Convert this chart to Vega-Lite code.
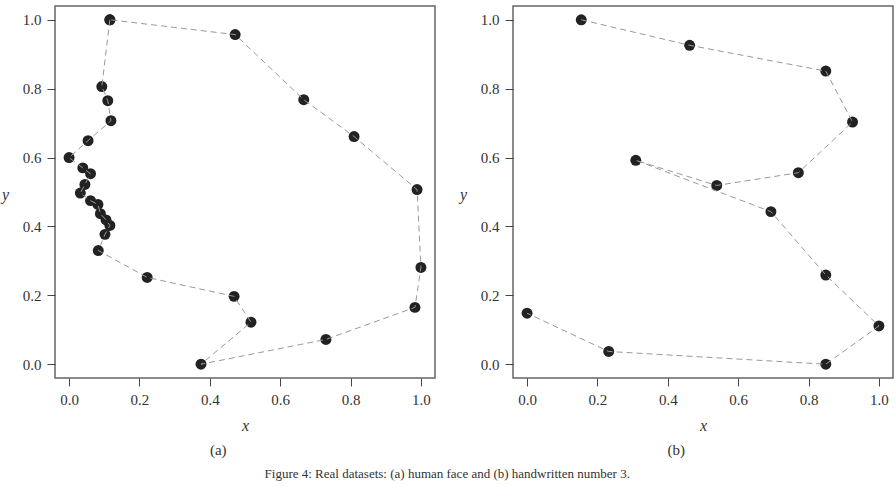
{
  "$schema": "https://vega.github.io/schema/vega-lite/v6.json",
  "padding": {"left": 0, "top": 5, "right": 0, "bottom": 0},
  "background": "white",
  "datasets": {
    "face": [
      {"i": 1, "x": 0.116, "y": 1.000},
      {"i": 2, "x": 0.093, "y": 0.806},
      {"i": 3, "x": 0.110, "y": 0.765},
      {"i": 4, "x": 0.119, "y": 0.707},
      {"i": 5, "x": 0.054, "y": 0.649},
      {"i": 6, "x": 0.000, "y": 0.600},
      {"i": 7, "x": 0.039, "y": 0.570},
      {"i": 8, "x": 0.061, "y": 0.553},
      {"i": 9, "x": 0.045, "y": 0.522},
      {"i": 10, "x": 0.032, "y": 0.497},
      {"i": 11, "x": 0.061, "y": 0.475},
      {"i": 12, "x": 0.082, "y": 0.464},
      {"i": 13, "x": 0.089, "y": 0.437},
      {"i": 14, "x": 0.105, "y": 0.419},
      {"i": 15, "x": 0.116, "y": 0.403},
      {"i": 16, "x": 0.102, "y": 0.377},
      {"i": 17, "x": 0.083, "y": 0.330},
      {"i": 18, "x": 0.222, "y": 0.252},
      {"i": 19, "x": 0.469, "y": 0.197},
      {"i": 20, "x": 0.517, "y": 0.122},
      {"i": 21, "x": 0.375, "y": 0.000},
      {"i": 22, "x": 0.730, "y": 0.072},
      {"i": 23, "x": 0.983, "y": 0.165},
      {"i": 24, "x": 1.000, "y": 0.281},
      {"i": 25, "x": 0.989, "y": 0.507},
      {"i": 26, "x": 0.810, "y": 0.661},
      {"i": 27, "x": 0.667, "y": 0.768},
      {"i": 28, "x": 0.472, "y": 0.957},
      {"i": 29, "x": 0.116, "y": 1.000}
    ],
    "digit": [
      {"i": 1, "x": 0.154, "y": 1.000},
      {"i": 2, "x": 0.462, "y": 0.926},
      {"i": 3, "x": 0.849, "y": 0.851},
      {"i": 4, "x": 0.925, "y": 0.703},
      {"i": 5, "x": 0.771, "y": 0.556},
      {"i": 6, "x": 0.539, "y": 0.519},
      {"i": 7, "x": 0.309, "y": 0.592},
      {"i": 8, "x": 0.693, "y": 0.443},
      {"i": 9, "x": 0.849, "y": 0.259},
      {"i": 10, "x": 1.000, "y": 0.111},
      {"i": 11, "x": 0.849, "y": 0.000},
      {"i": 12, "x": 0.232, "y": 0.037},
      {"i": 13, "x": 0.000, "y": 0.148}
    ]
  },
  "title": {
    "text": "Figure 4: Real datasets: (a) human face and (b) handwritten number 3.",
    "orient": "bottom",
    "anchor": "middle",
    "frame": "bounds",
    "font": "Liberation Serif",
    "fontSize": 13,
    "fontWeight": "normal",
    "color": "#333",
    "offset": 9
  },
  "spacing": 78,
  "bounds": "flush",
  "hconcat": [
    {
      "width": 380,
      "height": 372,
      "title": {"text": "(a)", "orient": "bottom", "anchor": "middle", "frame": "bounds", "offset": 10},
      "data": {"name": "face"},
      "layer": [
        {
          "mark": {"type": "point", "filled": true, "color": "#222", "opacity": 1, "size": 120},
          "encoding": {
            "x": {"field": "x", "type": "quantitative"},
            "y": {"field": "y", "type": "quantitative"}
          }
        },
        {
          "mark": {"type": "line", "color": "#999", "strokeWidth": 1, "strokeDash": [6, 4]},
          "encoding": {
            "x": {"field": "x", "type": "quantitative", "scale": {"domain": [-0.04, 1.04], "nice": false, "zero": false}, "axis": {"values": [0, 0.2, 0.4, 0.6, 0.8, 1.0], "format": ".1f", "title": "x"}},
            "y": {"field": "y", "type": "quantitative", "scale": {"domain": [-0.04, 1.04], "nice": false, "zero": false}, "axis": {"values": [0, 0.2, 0.4, 0.6, 0.8, 1.0], "format": ".1f", "title": "y", "titleAngle": 0, "titleX": -50, "titleY": 188, "titleAlign": "center", "titleBaseline": "middle"}},
            "order": {"field": "i", "type": "quantitative"}
          }
        }
      ]
    },
    {
      "width": 380,
      "height": 372,
      "title": {"text": "(b)", "orient": "bottom", "anchor": "middle", "frame": "bounds", "offset": 10},
      "data": {"name": "digit"},
      "layer": [
        {
          "mark": {"type": "point", "filled": true, "color": "#222", "opacity": 1, "size": 120},
          "encoding": {
            "x": {"field": "x", "type": "quantitative"},
            "y": {"field": "y", "type": "quantitative"}
          }
        },
        {
          "mark": {"type": "line", "color": "#999", "strokeWidth": 1, "strokeDash": [6, 4]},
          "encoding": {
            "x": {"field": "x", "type": "quantitative", "scale": {"domain": [-0.04, 1.04], "nice": false, "zero": false}, "axis": {"values": [0, 0.2, 0.4, 0.6, 0.8, 1.0], "format": ".1f", "title": "x"}},
            "y": {"field": "y", "type": "quantitative", "scale": {"domain": [-0.04, 1.04], "nice": false, "zero": false}, "axis": {"values": [0, 0.2, 0.4, 0.6, 0.8, 1.0], "format": ".1f", "title": "y", "titleAngle": 0, "titleX": -50, "titleY": 188, "titleAlign": "center", "titleBaseline": "middle"}},
            "order": {"field": "i", "type": "quantitative"}
          }
        }
      ]
    }
  ],
  "config": {
    "font": "Liberation Serif",
    "view": {"stroke": "#666", "strokeWidth": 1.5},
    "axis": {
      "grid": false,
      "domain": false,
      "ticks": true,
      "tickSize": 8,
      "tickColor": "#444",
      "tickWidth": 1,
      "labelFont": "Liberation Serif",
      "labelFontSize": 15,
      "labelColor": "#333",
      "labelPadding": 6,
      "titleFont": "Liberation Serif",
      "titleFontSize": 16,
      "titleFontStyle": "italic",
      "titleFontWeight": "normal",
      "titleColor": "#333",
      "titlePadding": 10
    },
    "title": {
      "font": "Liberation Serif",
      "fontSize": 15,
      "fontWeight": "normal",
      "color": "#333"
    }
  }
}
